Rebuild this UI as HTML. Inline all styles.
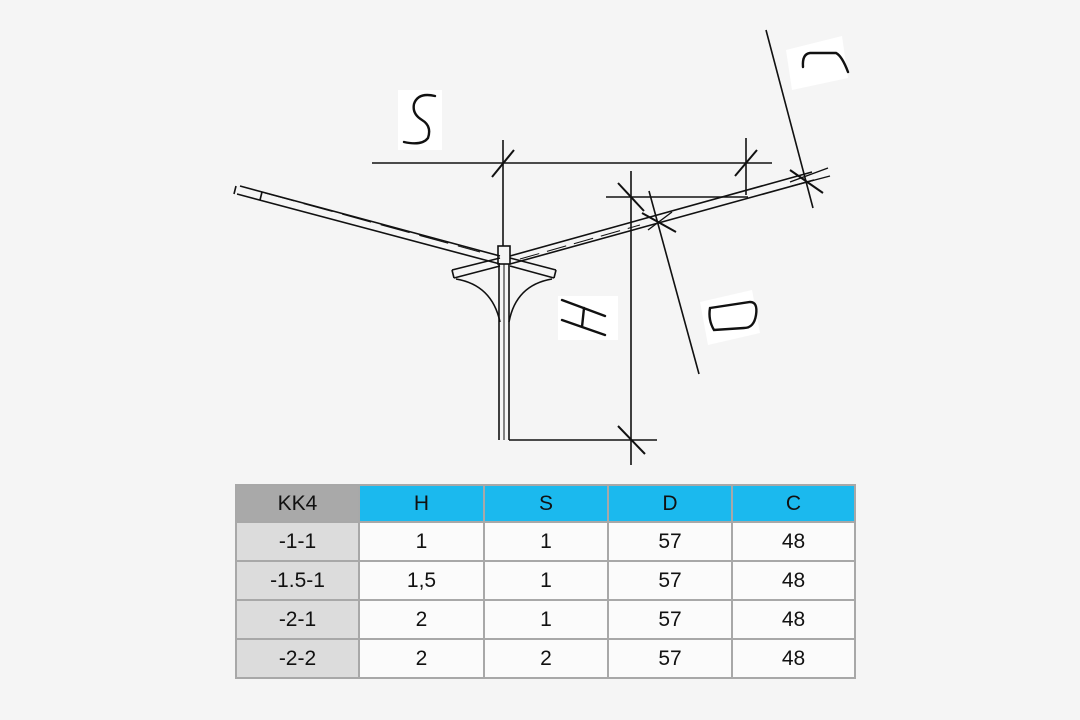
<!DOCTYPE html>
<html><head><meta charset="utf-8"><style>
body{margin:0;background:#f5f5f5;width:1080px;height:720px;overflow:hidden;position:relative;font-family:"Liberation Sans",sans-serif}
svg{position:absolute;left:0;top:0}
table{position:absolute;left:235px;top:484px;border-collapse:collapse;table-layout:fixed;width:619px}
td{border:2px solid #a8a8a8;height:39px;text-align:center;font-size:21px;color:#111;background:#fbfbfb;padding:0;box-sizing:border-box}
tr.h td{background:#1bb9ee;height:37px}
tr.h td:first-child{background:#a9a9a9}
td:first-child{background:#dcdcdc}
</style></head><body>
<svg width="1080" height="720" viewBox="0 0 1080 720" fill="none" stroke="#111" stroke-width="1.6">
<g stroke="none" fill="#fff">
<rect x="398" y="90" width="44" height="60"/>
<rect x="558" y="296" width="60" height="44"/>
<polygon points="700,302 752,290 760,333 708,345"/>
<polygon points="786,50 842,36 848,78 792,90"/>
</g>
<polyline points="240,186 500,256"/><polyline points="237,194 500,264"/>
<line x1="236" y1="186" x2="234" y2="194"/><line x1="262" y1="192" x2="260" y2="200"/>
<polyline points="510,256 812,172"/><polyline points="510,264 814,180"/>
<line x1="520" y1="259" x2="640" y2="225" stroke-dasharray="20,8" stroke-width="1"/>
<line x1="265" y1="193" x2="480" y2="252" stroke-dasharray="30,10" stroke-width="1"/>
<polyline points="452,270 500,258"/><polyline points="454,278 500,266"/><line x1="452" y1="270" x2="454" y2="278"/>
<polyline points="510,258 556,270"/><polyline points="510,266 554,278"/><line x1="556" y1="270" x2="554" y2="278"/>
<path d="M456,279 Q492,285 500,322"/><path d="M552,279 Q516,285 509,322"/>
<rect x="498" y="246" width="12" height="18"/>
<line x1="499" y1="264" x2="499" y2="440"/><line x1="509" y1="264" x2="509" y2="440"/>
<line x1="504" y1="264" x2="504" y2="440" stroke-width="1"/>
<line x1="372" y1="163" x2="772" y2="163"/>
<line x1="503" y1="140" x2="503" y2="246"/><line x1="746" y1="138" x2="746" y2="195"/>
<line x1="492" y1="177" x2="514" y2="150" stroke-width="2"/><line x1="735" y1="176" x2="757" y2="150" stroke-width="2"/>
<line x1="606" y1="197" x2="748" y2="197"/>
<line x1="631" y1="171" x2="631" y2="465"/>
<line x1="509" y1="440" x2="657" y2="440"/>
<line x1="618" y1="183" x2="644" y2="211" stroke-width="2"/>
<line x1="618" y1="426" x2="645" y2="454" stroke-width="2"/>
<line x1="649" y1="191" x2="699" y2="374"/>
<line x1="642" y1="213" x2="676" y2="232" stroke-width="2"/><line x1="648" y1="230" x2="672" y2="212" stroke-width="1.4"/>
<line x1="766" y1="30" x2="813" y2="208"/>
<line x1="790" y1="170" x2="823" y2="193" stroke-width="2"/><line x1="790" y1="182" x2="828" y2="168" stroke-width="1.4"/><line x1="792" y1="186" x2="830" y2="176" stroke-width="1.4"/>
<g stroke-width="2.4" stroke-linecap="round">
<path d="M435,96 Q418,92 414,104 Q412,114 422,120 Q432,126 428,138 Q422,146 404,142"/>
<path d="M562,300 L605,316 M562,320 L605,335 M584,308 L582,327"/>
<path d="M710,308 L750,302 Q758,302 756,315 Q754,328 744,328 L714,330 Q708,320 710,308"/>
<path d="M803,67 Q802,54 810,53 L836,53 Q842,56 848,72"/>
</g>
</svg>
<table>
<colgroup><col style="width:123px"><col style="width:125px"><col style="width:124px"><col style="width:124px"><col style="width:123px"></colgroup>
<tr class="h"><td>KK4</td><td>H</td><td>S</td><td>D</td><td>C</td></tr>
<tr><td>-1-1</td><td>1</td><td>1</td><td>57</td><td>48</td></tr>
<tr><td>-1.5-1</td><td>1,5</td><td>1</td><td>57</td><td>48</td></tr>
<tr><td>-2-1</td><td>2</td><td>1</td><td>57</td><td>48</td></tr>
<tr><td>-2-2</td><td>2</td><td>2</td><td>57</td><td>48</td></tr>
</table>
</body></html>
